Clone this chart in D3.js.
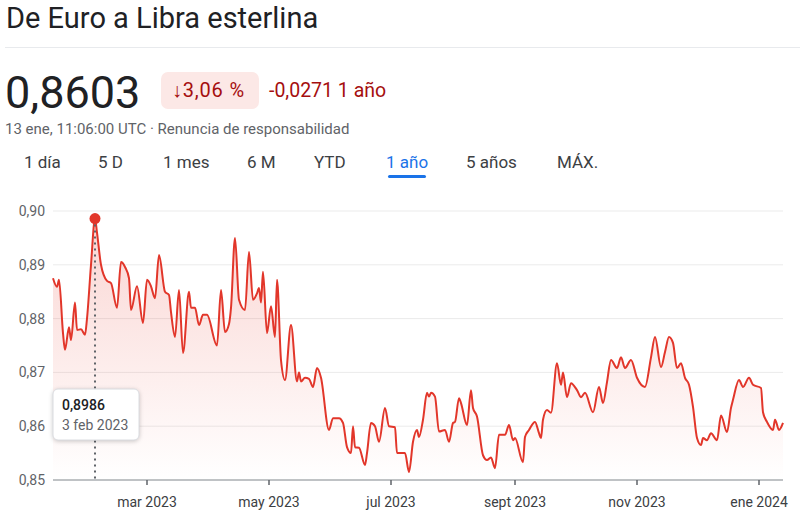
<!DOCTYPE html>
<html><head><meta charset="utf-8">
<script src="https://cdn.jsdelivr.net/npm/d3@7"></script>
<style>body{margin:0;background:#fff;font-family:Roboto,"Noto Sans",sans-serif}</style>
</head><body><svg id="c" width="800" height="524"></svg>
<script>
const startDate = "2023-01-13";
const dayOffsets = [0,2,3,5,6,8,9,11,12,14,16,17,19,21,22,24,27,29,32,34,36,38,39,42,45,47,49,51,53,56,58,59,61,63,65,68,69,71,73,75,77,82,84,86,88,89,91,93,96,98,100,102,103,104,105,107,109,111,112,114,116,119,122,123,124,126,128,130,132,134,138,140,143,145,147,149,150,151,153,156,157,159,161,163,166,168,171,172,176,178,180,182,183,185,187,188,189,191,193,196,198,200,201,203,204,207,209,210,212,215,217,219,221,223,226,228,230,231,235,236,238,241,243,244,245,247,249,252,254,255,257,259,262,264,266,270,273,275,277,279,282,284,286,289,292,296,299,301,304,306,308,310,312,314,316,318,320,322,324,325,327,329,332,334,337,339,340,343,345,348,350,354,355,357,360,361,363,365];
const rates = [.8875,.8859,.8872,.8773,.8742,.8784,.876,.883,.8779,.878,.877,.880,.890,.8986,.896,.890,.887,.8866,.882,.8905,.8896,.8875,.8816,.886,.8792,.8872,.886,.8838,.8918,.885,.8844,.8812,.8766,.8853,.8736,.885,.882,.882,.8788,.8807,.8807,.875,.8853,.8775,.879,.882,.895,.8835,.8816,.8924,.8835,.8847,.8857,.883,.8887,.8773,.8823,.8766,.8872,.8723,.8686,.8788,.8683,.870,.8683,.869,.8688,.8673,.8708,.869,.8593,.8615,.8615,.8606,.8561,.855,.86,.8561,.856,.8528,.855,.8606,.86,.8571,.8634,.86,.8598,.855,.855,.8515,.8571,.8593,.858,.8612,.8662,.8655,.8662,.8655,.859,.8593,.8571,.8606,.8608,.8652,.8643,.8602,.8667,.8634,.8618,.8546,.8537,.8542,.8522,.8584,.8584,.8602,.8574,.8578,.8533,.858,.8593,.8608,.8587,.8578,.8612,.863,.8625,.8717,.8677,.870,.8654,.868,.8667,.8654,.8662,.8626,.8673,.8643,.8682,.8723,.8708,.8728,.8708,.8723,.869,.8673,.8728,.8766,.871,.8738,.8766,.8755,.8708,.8717,.869,.8677,.8636,.8578,.8565,.8578,.8574,.8587,.8574,.862,.8589,.8634,.8649,.8686,.8673,.869,.8677,.8671,.8626,.8608,.8593,.8612,.8593,.8606];
const yTicks = [0.85,0.86,0.87,0.88,0.89,0.90];
const xTickDates = ["2023-03-01","2023-05-01","2023-07-01","2023-09-01","2023-11-01","2024-01-01"];
const xTickLabels = ["mar 2023","may 2023","jul 2023","sept 2023","nov 2023","ene 2024"];
const tabs = ["1 día","5 D","1 mes","6 M","YTD","1 año","5 años","MÁX."];
const tabX = [24,98,163,247,314,386,466,557];
const peakIndex = 13;

const parse = d3.utcParse("%Y-%m-%d");
const t0 = parse(startDate);
const data = dayOffsets.map((d,i)=>({date:d3.utcDay.offset(t0,d),v:rates[i]}));
const svg = d3.select("#c");
const x = d3.scaleUtc().domain([t0, d3.utcDay.offset(t0,365)]).range([53,783]);
const y = d3.scaleLinear().domain([0.85,0.90]).range([480,211]);

// header
svg.append("text").attr("x",6).attr("y",28).attr("font-size",29).attr("fill","#202124").text("De Euro a Libra esterlina");
svg.append("line").attr("x1",5).attr("x2",800).attr("y1",47.5).attr("y2",47.5).attr("stroke","#e8eaed");
svg.append("text").attr("x",5).attr("y",108).attr("font-size",45).attr("fill","#202124").text("0,8603");
svg.append("rect").attr("x",161).attr("y",72).attr("width",98).attr("height",37).attr("rx",7).attr("fill","#fce8e6");
svg.append("text").attr("x",172).attr("y",97).attr("font-size",20).attr("letter-spacing",0.8).attr("fill","#a50e0e").text("↓3,06 %");
svg.append("text").attr("x",269).attr("y",97).attr("font-size",19.5).attr("fill","#a50e0e").text("-0,0271 1 año");
svg.append("text").attr("x",5).attr("y",134).attr("font-size",15).attr("fill","#5f6368").text("13 ene, 11:06:00 UTC · Renuncia de responsabilidad");
tabs.forEach((t,i)=>{
  svg.append("text").attr("x",tabX[i]).attr("y",168).attr("font-size",17).attr("fill",i===5?"#1a73e8":"#3c4043").text(t);
});
svg.append("rect").attr("x",388).attr("y",175).attr("width",38).attr("height",3).attr("rx",1.5).attr("fill","#1a73e8");

// grid
svg.append("g").selectAll("line").data(yTicks.slice(1)).join("line")
  .attr("x1",53).attr("x2",783).attr("y1",d=>y(d)).attr("y2",d=>y(d)).attr("stroke","#ebebeb");
svg.append("g").selectAll("text").data(yTicks).join("text")
  .attr("x",45).attr("y",d=>y(d)+5).attr("text-anchor","end").attr("font-size",14).attr("fill","#5f6368")
  .text(d=>d3.format(".2f")(d).replace(".",","));

// gradient
const g = svg.append("defs").append("linearGradient").attr("id","gr").attr("x1",0).attr("x2",0).attr("y1",0).attr("y2",1);
g.append("stop").attr("offset","0%").attr("stop-color","#e94235").attr("stop-opacity",0.22);
g.append("stop").attr("offset","100%").attr("stop-color","#e94235").attr("stop-opacity",0);
svg.append("path").datum(data).attr("fill","url(#gr)")
  .attr("d",d3.area().x(d=>x(d.date)).y0(480).y1(d=>y(d.v)).curve(d3.curveMonotoneX));
svg.append("path").datum(data).attr("fill","none").attr("stroke","#e2362a").attr("stroke-width",2)
  .attr("d",d3.line().x(d=>x(d.date)).y(d=>y(d.v)).curve(d3.curveMonotoneX));

// axis
const ax = svg.append("g").attr("transform","translate(0,480)");
ax.append("line").attr("x1",53).attr("x2",783).attr("stroke","#80868b");
xTickDates.forEach((d,i)=>{
  const xx = x(parse(d));
  ax.append("line").attr("x1",xx).attr("x2",xx).attr("y1",0).attr("y2",5).attr("stroke","#5f6368").attr("stroke-width",1.5);
  ax.append("text").attr("x",xx).attr("y",27).attr("text-anchor","middle").attr("font-size",14).attr("fill","#3c4043").text(xTickLabels[i]);
});

// peak marker & tooltip
const p = data[peakIndex];
svg.append("line").attr("x1",x(p.date)).attr("x2",x(p.date)).attr("y1",y(p.v)).attr("y2",480)
  .attr("stroke","#5f6368").attr("stroke-width",2).attr("stroke-dasharray","2,4");
svg.append("circle").attr("cx",x(p.date)).attr("cy",y(p.v)).attr("r",5.5).attr("fill","#e2362a");
svg.append("rect").attr("x",53).attr("y",389).attr("width",86).attr("height",51).attr("rx",5)
  .attr("fill","#fff").attr("stroke","#dadce0").style("filter","drop-shadow(0 1px 2px rgba(0,0,0,0.2))");
svg.append("text").attr("x",62).attr("y",410).attr("font-size",14).attr("font-weight",500).attr("fill","#202124").text(String(p.v).replace(".",",").replace(/^,/,"0,"));
svg.append("text").attr("x",62).attr("y",430).attr("font-size",14).attr("fill","#5f6368").text("3 feb 2023");
</script></body></html>
